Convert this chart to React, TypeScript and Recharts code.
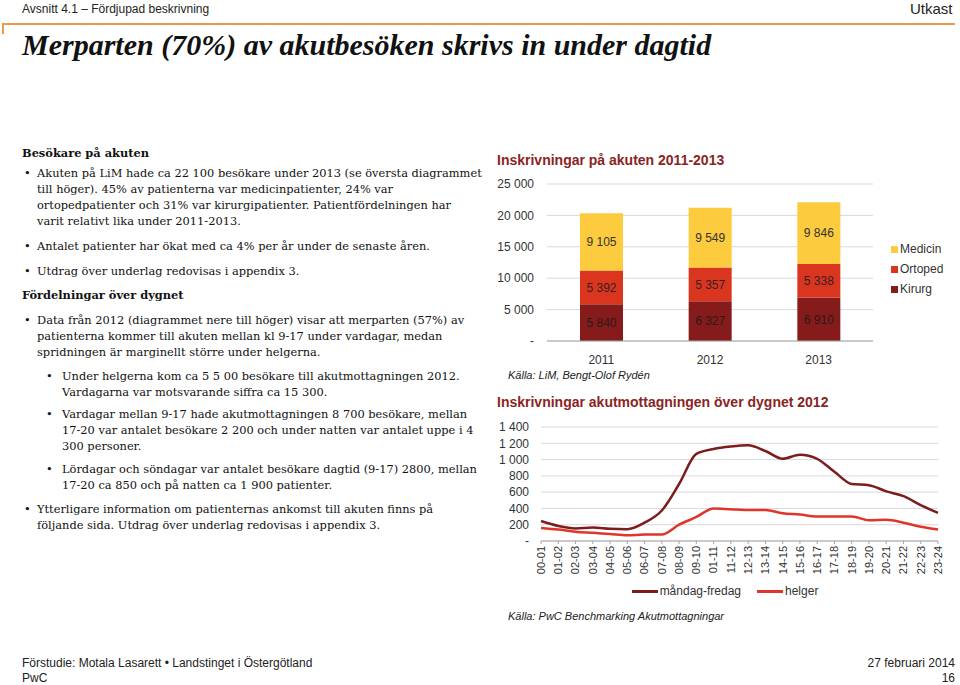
import React from "react";
import {
  BarChart,
  Bar,
  LineChart,
  Line,
  XAxis,
  YAxis,
  CartesianGrid,
  Legend,
  LabelList,
} from "recharts";

const years = ["2011", "2012", "2013"];
const kirurg = [5840, 6327, 6910];
const ortoped = [5392, 5357, 5338];
const medicin = [9105, 9549, 9846];
const barTicks = [0, 5000, 10000, 15000, 20000, 25000];

const hours = [
  "00-01", "01-02", "02-03", "03-04", "04-05", "05-06", "06-07", "07-08",
  "08-09", "09-10", "01-11", "11-12", "12-13", "13-14", "14-15", "15-16",
  "16-17", "17-18", "18-19", "19-20", "20-21", "21-22", "22-23", "23-24",
];
const weekday = [
  245, 185, 155, 165, 150, 145, 225, 375, 700, 1070, 1130, 1160, 1175, 1105,
  1010, 1060, 1010, 850, 700, 685, 610, 550, 440, 345,
];
const weekend = [
  160, 140, 115, 100, 85, 70, 80, 80, 200, 295, 400, 390, 380, 380, 340, 325,
  300, 300, 300, 255, 260, 225, 175, 140,
];
const lineTicks = [0, 200, 400, 600, 800, 1000, 1200, 1400];

const barData = years.map((y, i) => ({
  year: y,
  Kirurg: kirurg[i],
  Ortoped: ortoped[i],
  Medicin: medicin[i],
}));
const lineData = hours.map((h, i) => ({
  hour: h,
  weekday: weekday[i],
  weekend: weekend[i],
}));

const C_MED = "#fccb3e";
const C_ORT = "#d9351f";
const C_KIR = "#861b1b";
const C_WEEK = "#7e1c1c";
const C_HELG = "#e0352a";

const sans = "Arial, 'Liberation Sans', sans-serif";
const serif = "'DejaVu Serif', Georgia, serif";

const fmt = (v: any) =>
  Number(v) === 0 ? "-" : String(v).replace(/\B(?=(\d{3})+(?!\d))/g, " ");

const HourTick = ({ x, y, payload }: any) => (
  <g transform={`translate(${x},${y})`}>
    <text
      transform="rotate(-90)"
      textAnchor="end"
      dy="0.35em"
      x={0}
      fontSize={11}
      fill="#333"
      fontFamily={sans}
    >
      {payload.value}
    </text>
  </g>
);

const abs = (left: number, top: number, extra: any = {}) => ({
  position: "absolute" as const,
  left,
  top,
  whiteSpace: "nowrap" as const,
  ...extra,
});

const bodyText = { fontFamily: serif, fontSize: 11.4, lineHeight: "16px", color: "#111" };

const Bullet = ({ x, y, tx, lines }: any) => (
  <>
    <div style={abs(x, y, { ...bodyText })}>•</div>
    <div style={abs(tx, y, { ...bodyText })}>
      {lines.map((l: string, i: number) => (
        <div key={i}>{l}</div>
      ))}
    </div>
  </>
);

export default function App() {
  return (
    <div
      style={{
        position: "absolute",
        left: 0,
        top: 0,
        width: 960,
        height: 685,
        background: "#fff",
        overflow: "hidden",
      }}
    >
      {/* header */}
      <div style={abs(22, 2, { fontFamily: sans, fontSize: 12, color: "#222" })}>
        Avsnitt 4.1 – Fördjupad beskrivning
      </div>
      <div style={abs(910, 0, { fontFamily: sans, fontSize: 15, color: "#222" })}>
        Utkast
      </div>
      <div style={{ position: "absolute", left: 2, top: 23, width: 953, height: 1.5, background: "#ec9a4f" }} />
      <div style={{ position: "absolute", left: 2, top: 23, width: 1.5, height: 11, background: "#ec9a4f" }} />
      <div
        style={abs(22, 28, {
          fontFamily: "'Liberation Serif', 'Times New Roman', serif",
          fontStyle: "italic",
          fontWeight: "bold",
          fontSize: 30,
          color: "#111",
        })}
      >
        Merparten (70%) av akutbesöken skrivs in under dagtid
      </div>

      {/* left text */}
      <div style={abs(22, 145, { ...bodyText, fontWeight: "bold" })}>Besökare på akuten</div>
      <Bullet
        x={24}
        y={165}
        tx={37}
        lines={[
          "Akuten på LiM hade ca 22 100 besökare under 2013 (se översta diagrammet",
          "till höger). 45% av patienterna var medicinpatienter, 24% var",
          "ortopedpatienter och 31% var kirurgipatienter. Patientfördelningen har",
          "varit relativt lika under 2011-2013.",
        ]}
      />
      <Bullet x={24} y={238} tx={37} lines={["Antalet patienter har ökat med ca 4% per år under de senaste åren."]} />
      <Bullet x={24} y={263} tx={37} lines={["Utdrag över underlag redovisas i appendix 3."]} />
      <div style={abs(22, 287, { ...bodyText, fontWeight: "bold" })}>Fördelningar över dygnet</div>
      <Bullet
        x={24}
        y={312}
        tx={37}
        lines={[
          "Data från 2012 (diagrammet nere till höger) visar att merparten (57%) av",
          "patienterna kommer till akuten mellan kl 9-17 under vardagar, medan",
          "spridningen är marginellt större under helgerna.",
        ]}
      />
      <Bullet
        x={46}
        y={368}
        tx={62}
        lines={[
          "Under helgerna kom ca 5 5 00 besökare till akutmottagningen 2012.",
          "Vardagarna var motsvarande siffra ca 15 300.",
        ]}
      />
      <Bullet
        x={46}
        y={406}
        tx={62}
        lines={[
          "Vardagar mellan 9-17 hade akutmottagningen 8 700 besökare, mellan",
          "17-20 var antalet besökare 2 200 och under natten var antalet uppe i 4",
          "300 personer.",
        ]}
      />
      <Bullet
        x={46}
        y={461}
        tx={62}
        lines={[
          "Lördagar och söndagar var antalet besökare dagtid (9-17) 2800, mellan",
          "17-20 ca 850 och på natten ca 1 900 patienter.",
        ]}
      />
      <Bullet
        x={24}
        y={501}
        tx={37}
        lines={[
          "Ytterligare information om patienternas ankomst till akuten finns på",
          "följande sida. Utdrag över underlag redovisas i appendix 3.",
        ]}
      />

      {/* top chart */}
      <div style={abs(497, 152, { fontFamily: sans, fontSize: 14, fontWeight: "bold", color: "#8a2424" })}>
        Inskrivningar på akuten 2011-2013
      </div>
      <div style={{ position: "absolute", left: 490, top: 170 }}>
        <BarChart
          width={470}
          height={200}
          data={barData}
          margin={{ top: 14, right: 87, left: 0, bottom: 0 }}
          barSize={43}
        >
          <CartesianGrid vertical={false} stroke="#d9d9d9" />
          <XAxis
            dataKey="year"
            height={29}
            tickLine={false}
            axisLine={{ stroke: "#a6a6a6" }}
            tickMargin={8}
            tick={{ fontSize: 12, fill: "#333", fontFamily: sans }}
          />
          <YAxis
            width={57}
            ticks={barTicks}
            domain={[0, 25000]}
            interval={0}
            tickFormatter={fmt}
            axisLine={false}
            tickLine={false}
            tickMargin={7}
            tick={{ fontSize: 12, fill: "#333", fontFamily: sans }}
          />
          <Legend
            layout="vertical"
            align="center"
            verticalAlign="middle"
            wrapperStyle={{ left: 401, top: 69, width: 70 }}
            content={() => (
              <div style={{ fontFamily: sans, fontSize: 12, color: "#333" }}>
                {[
                  ["Medicin", C_MED],
                  ["Ortoped", C_ORT],
                  ["Kirurg", C_KIR],
                ].map(([n, c]) => (
                  <div key={n} style={{ height: 20, display: "flex", alignItems: "center" }}>
                    <span style={{ width: 7, height: 7, background: c, marginRight: 2, display: "inline-block" }} />
                    {n}
                  </div>
                ))}
              </div>
            )}
          />
          <Bar dataKey="Kirurg" stackId="a" fill={C_KIR} isAnimationActive={false}>
            <LabelList dataKey="Kirurg" position="center" formatter={fmt} fontSize={12} fill="#2a1a1a" fontFamily={sans} />
          </Bar>
          <Bar dataKey="Ortoped" stackId="a" fill={C_ORT} isAnimationActive={false}>
            <LabelList dataKey="Ortoped" position="center" formatter={fmt} fontSize={12} fill="#3a2020" fontFamily={sans} />
          </Bar>
          <Bar dataKey="Medicin" stackId="a" fill={C_MED} isAnimationActive={false}>
            <LabelList dataKey="Medicin" position="center" formatter={fmt} fontSize={12} fill="#333" fontFamily={sans} />
          </Bar>
        </BarChart>
      </div>
      <div style={abs(508, 369, { fontFamily: sans, fontSize: 11, fontStyle: "italic", color: "#222" })}>
        Källa: LiM, Bengt-Olof Rydén
      </div>

      {/* bottom chart */}
      <div style={abs(497, 394, { fontFamily: sans, fontSize: 14, fontWeight: "bold", color: "#8a2424" })}>
        Inskrivningar akutmottagningen över dygnet 2012
      </div>
      <div style={{ position: "absolute", left: 490, top: 415 }}>
        <LineChart
          width={470}
          height={190}
          data={lineData}
          margin={{ top: 12, right: 22, left: 0, bottom: 30 }}
        >
          <CartesianGrid vertical={false} stroke="#d9d9d9" />
          <XAxis
            dataKey="hour"
            height={34}
            interval={0}
            tickSize={3}
            tickLine={{ stroke: "#a6a6a6" }}
            axisLine={{ stroke: "#a6a6a6" }}
            tick={<HourTick />}
          />
          <YAxis
            width={51}
            ticks={lineTicks}
            domain={[0, 1400]}
            interval={0}
            tickFormatter={fmt}
            axisLine={false}
            tickLine={false}
            tickMargin={6}
            tick={{ fontSize: 12, fill: "#333", fontFamily: sans }}
          />
          <Legend
            layout="vertical"
            align="center"
            verticalAlign="middle"
            wrapperStyle={{ left: 0, top: 166, width: 470 }}
            content={() => (
              <div
                style={{
                  fontFamily: sans,
                  fontSize: 12,
                  color: "#333",
                  display: "flex",
                  justifyContent: "center",
                  alignItems: "center",
                  height: 20,
                }}
              >
                {[
                  ["måndag-fredag", C_WEEK],
                  ["helger", C_HELG],
                ].map(([n, c]) => (
                  <div key={n} style={{ display: "flex", alignItems: "center", margin: "0 8px" }}>
                    <span style={{ width: 26, height: 3, background: c, marginRight: 2, display: "inline-block" }} />
                    {n}
                  </div>
                ))}
              </div>
            )}
          />
          <Line
            type="monotone"
            dataKey="weekday"
            stroke={C_WEEK}
            strokeWidth={2.5}
            dot={false}
            isAnimationActive={false}
          />
          <Line
            type="monotone"
            dataKey="weekend"
            stroke={C_HELG}
            strokeWidth={2.5}
            dot={false}
            isAnimationActive={false}
          />
        </LineChart>
      </div>
      <div style={abs(508, 610, { fontFamily: sans, fontSize: 11, fontStyle: "italic", color: "#222" })}>
        Källa: PwC Benchmarking Akutmottagningar
      </div>

      {/* footer */}
      <div style={abs(22, 656, { fontFamily: sans, fontSize: 12, color: "#222", lineHeight: "15px" })}>
        Förstudie: Motala Lasarett • Landstinget i Östergötland
        <br />
        PwC
      </div>
      <div
        style={abs(800, 656, {
          width: 155,
          textAlign: "right",
          fontFamily: sans,
          fontSize: 12,
          color: "#222",
          lineHeight: "15px",
        })}
      >
        27 februari 2014
        <br />
        16
      </div>
    </div>
  );
}
